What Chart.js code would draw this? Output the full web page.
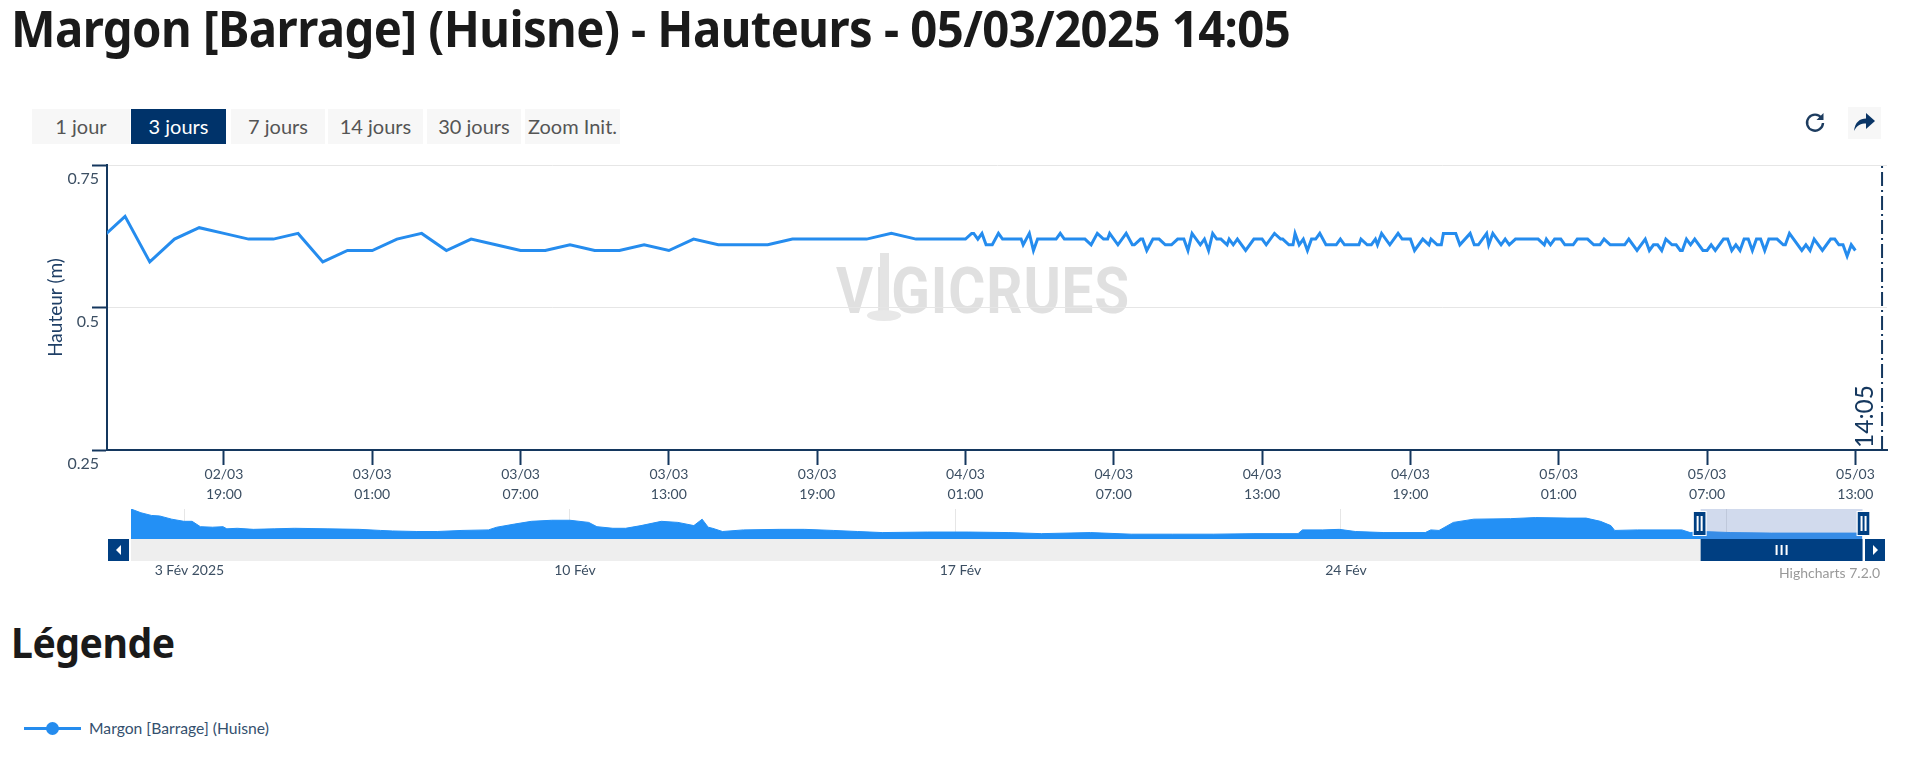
<!DOCTYPE html>
<html lang="fr">
<head>
<meta charset="utf-8">
<title>Margon [Barrage] (Huisne) - Hauteurs</title>
<script src="https://cdn.jsdelivr.net/npm/chart.js"></script>
<style>
  html, body { margin: 0; padding: 0; background: #fff; width: 1920px; height: 759px; overflow: hidden; font-family: Lato, sans-serif; }
  canvas { position: absolute; left: 0; display: block; }
  h1, h2 { position: absolute; margin: 0; left: 11px; color: #1a1a1a; font-weight: 700; white-space: nowrap; font-family: "Noto Sans", sans-serif; transform-origin: left top; }
  h1 { top: -6px; font-size: 50px; letter-spacing: -0.6px; transform: scaleX(0.945); }
  h2 { top: 614px; font-size: 41px; letter-spacing: -0.5px; transform: scaleX(0.955); }
  .btn { position: absolute; top: 109px; height: 35px; line-height: 35px; background: #f7f7f7; color: #555; text-align: center; font-size: 20px; }
  .btn.on { background: #00336a; color: #fff; }
  .icon { position: absolute; }
  #share { position: absolute; left: 1848px; top: 107px; width: 33px; height: 32px; background: #f7f7f7; }
  #wm { position: absolute; left: 836px; top: 260px; font: 700 64px "Liberation Sans Narrow", Roboto, sans-serif; color: #e0e0e0; letter-spacing: 1px; line-height: 64px; transform: scaleX(0.885); transform-origin: left top; }
  #pole { position: absolute; left: 880px; top: 253px; width: 9px; height: 60px; background: #e4e4e4; }
  #foot { position: absolute; left: 867px; top: 310px; width: 34px; height: 11px; border-radius: 50%; background: #e8e8e8; }
  #credits { position: absolute; left: 1779px; top: 564px; font-size: 14px; color: #999; }
  #legline { position: absolute; left: 24px; top: 727px; width: 57px; height: 3px; background: #258cee; }
  #legdot { position: absolute; left: 46px; top: 722px; width: 13px; height: 13px; border-radius: 50%; background: #258cee; }
  #legtxt { position: absolute; left: 89px; top: 719px; font-size: 15.7px; color: #34506e; }
</style>
</head>
<body>
<h1>Margon [Barrage] (Huisne) - Hauteurs - 05/03/2025 14:05</h1>
<div class="btn" style="left:32px;width:98px">1 jour</div>
<div class="btn on" style="left:131px;width:95px">3 jours</div>
<div class="btn" style="left:231px;width:94px">7 jours</div>
<div class="btn" style="left:328px;width:95px">14 jours</div>
<div class="btn" style="left:427px;width:94px">30 jours</div>
<div class="btn" style="left:525px;width:95px">Zoom Init.</div>
<svg class="icon" style="left:1803px;top:110px" width="24" height="24" viewBox="0 0 24 24">
  <path d="M18.5 8 A8 8 0 1 0 20 13" fill="none" stroke="#1d3c5f" stroke-width="2.4"/>
  <path d="M20.5 3 V10 H13.5 Z" fill="#1d3c5f"/>
</svg>
<div id="share"></div>
<svg class="icon" style="left:1853px;top:111px" width="23" height="22" viewBox="0 0 23 22">
  <path d="M1 20 C2 11 7 7.5 13 7.5 V2 L22 10 L13 18 V12.5 C8 12.5 4 14 1 20 Z" fill="#0a3566"/>
</svg>
<div id="wm">VIGICRUES</div><div id="pole"></div><div id="foot"></div>
<canvas id="mainChart" width="1920" height="357" style="top:144px"></canvas>
<canvas id="navChart" width="1920" height="90" style="top:501px"></canvas>
<div id="credits">Highcharts 7.2.0</div>
<h2>Légende</h2>
<div id="legline"></div><div id="legdot"></div><div id="legtxt">Margon [Barrage] (Huisne)</div>

<script>
// all times are hours since 02/03 00:00
const seriesName = 'Margon [Barrage] (Huisne)';
const hourlyStart = 14;
const hourlyHeights = [0.62, 0.66, 0.58, 0.62, 0.64, 0.63, 0.62, 0.62, 0.63, 0.58, 0.60, 0.60,
  0.62, 0.63, 0.60, 0.62, 0.61, 0.60, 0.60, 0.61, 0.60, 0.60, 0.61, 0.60, 0.62, 0.61, 0.61,
  0.61, 0.62, 0.62, 0.62, 0.62, 0.63, 0.62, 0.62, 0.62];

// from 04/03 01:00 the station reports more often: minutes after 01:00 and height
const detailMinutes = [15, 20, 30, 40, 50, 65, 80, 90, 135, 140, 155, 165, 175, 220, 230, 240, 290, 305, 320, 335,
  345, 350, 370, 390, 405, 410, 425, 430, 440, 455, 470, 485, 500, 515, 530, 540, 550, 570, 580, 590,
  600, 610, 620, 635, 640, 650, 660, 680, 700, 720, 730, 750, 765, 770, 785, 795, 800, 810, 820, 830,
  840, 850, 860, 875, 900, 910, 920, 955, 960, 975, 985, 995, 1000, 1010, 1030, 1050, 1060, 1080, 1090, 1110,
  1125, 1130, 1145, 1155, 1160, 1190, 1200, 1225, 1235, 1245, 1265, 1270, 1280, 1300, 1310, 1320, 1335, 1390, 1405, 1410,
  1420, 1430, 1445, 1455, 1475, 1485, 1510, 1525, 1540, 1550, 1565, 1600, 1610, 1630, 1650, 1660, 1670, 1680, 1690, 1700,
  1715, 1725, 1735, 1740, 1750, 1760, 1770, 1790, 1800, 1810, 1820, 1840, 1850, 1860, 1870, 1880, 1890, 1900, 1910, 1920,
  1930, 1940, 1950, 1970, 1985, 1990, 2000, 2030, 2040, 2050, 2060, 2080, 2100, 2110, 2120, 2130, 2140, 2150, 2160];
const detailHeights = [0.63, 0.63, 0.62, 0.63, 0.61, 0.61, 0.63, 0.62, 0.62, 0.61, 0.63, 0.60, 0.62, 0.62, 0.63, 0.62, 0.62, 0.61, 0.63, 0.62,
  0.62, 0.63, 0.61, 0.63, 0.61, 0.61, 0.62, 0.62, 0.60, 0.62, 0.62, 0.61, 0.61, 0.62, 0.62, 0.60, 0.63, 0.61, 0.62, 0.60,
  0.63, 0.62, 0.62, 0.61, 0.62, 0.61, 0.62, 0.60, 0.62, 0.62, 0.61, 0.63, 0.62, 0.62, 0.61, 0.61, 0.63, 0.61, 0.62, 0.60,
  0.62, 0.62, 0.63, 0.61, 0.61, 0.62, 0.61, 0.61, 0.62, 0.61, 0.61, 0.62, 0.61, 0.63, 0.61, 0.63, 0.62, 0.62, 0.60, 0.62,
  0.61, 0.62, 0.61, 0.61, 0.63, 0.63, 0.61, 0.63, 0.61, 0.61, 0.63, 0.61, 0.63, 0.61, 0.62, 0.61, 0.62, 0.62, 0.61, 0.62,
  0.61, 0.62, 0.62, 0.61, 0.61, 0.62, 0.62, 0.61, 0.61, 0.62, 0.61, 0.61, 0.62, 0.60, 0.62, 0.60, 0.61, 0.61, 0.60, 0.62,
  0.61, 0.61, 0.60, 0.60, 0.62, 0.61, 0.62, 0.60, 0.60, 0.61, 0.60, 0.62, 0.62, 0.60, 0.61, 0.60, 0.62, 0.62, 0.60, 0.62,
  0.62, 0.60, 0.62, 0.62, 0.61, 0.61, 0.63, 0.60, 0.61, 0.60, 0.62, 0.60, 0.62, 0.62, 0.61, 0.61, 0.59, 0.61, 0.60];

const tickHours = [19, 25, 31, 37, 43, 49, 55, 61, 67, 73, 79, 85];
const tickDates = ['02/03', '03/03', '03/03', '03/03', '03/03', '04/03', '04/03', '04/03', '04/03', '05/03', '05/03', '05/03'];
const tickTimes = ['19:00', '01:00', '07:00', '13:00', '19:00', '01:00', '07:00', '13:00', '19:00', '01:00', '07:00', '13:00'];
const yTicks = [0.25, 0.5, 0.75];
const xMin = 14.27, xMax = 86.28;
const nowHour = 86.08; // 05/03 14:05
const nowLabel = '14:05';

// navigator: days since 01/02 00:00 and height
const navDays = [1.03, 1.21, 1.40, 1.55, 1.77, 1.99, 2.14, 2.29, 2.51, 2.70, 2.77, 2.96, 3.25, 3.63, 4.00, 4.59, 5.18, 5.56, 5.78,
  6.22, 6.59, 7.04, 7.52, 7.67, 8.00, 8.30, 8.67, 9.00, 9.34, 9.49, 9.78, 10.01, 10.29, 10.66, 10.96, 11.25, 11.40, 11.51, 11.59,
  11.77, 12.15, 12.81, 13.26, 13.78, 14.22, 14.67, 15.49, 16.23, 16.97, 17.56, 18.45, 19.19, 19.94, 20.68, 21.42, 21.93, 22.22,
  22.30, 22.67, 22.97, 23.26, 23.78, 24.53, 24.63, 24.78, 25.04, 25.41, 26.08, 26.53, 27.12, 27.45, 27.71, 27.90, 27.97, 28.38,
  29.19, 29.34, 29.56, 30.08, 30.82, 32.46];
const navHeights = [1.06, 0.99, 0.94, 0.93, 0.87, 0.83, 0.83, 0.73, 0.72, 0.73, 0.69, 0.70, 0.68, 0.69, 0.70, 0.69, 0.68, 0.66, 0.65,
  0.64, 0.64, 0.66, 0.67, 0.72, 0.78, 0.83, 0.85, 0.85, 0.81, 0.73, 0.70, 0.70, 0.75, 0.83, 0.81, 0.75, 0.87, 0.72, 0.70,
  0.64, 0.67, 0.68, 0.68, 0.66, 0.64, 0.62, 0.63, 0.63, 0.62, 0.60, 0.62, 0.59, 0.59, 0.59, 0.60, 0.60, 0.60,
  0.67, 0.67, 0.68, 0.64, 0.62, 0.62, 0.67, 0.66, 0.81, 0.87, 0.88, 0.90, 0.89, 0.89, 0.83, 0.75, 0.66, 0.67,
  0.67, 0.62, 0.64, 0.62, 0.61, 0.61];
const navTickDays = [2, 9, 16, 23, 30];
const navTickLabels = ['3 Fév 2025', '10 Fév', '17 Fév', '24 Fév', ''];
const selStartDay = 29.53, selEndDay = 32.47;

const navy = '#14375e';
const textColor = '#3c4f63';
const lineColor = '#258cee';

// hourly readings then the denser ones
const hauteurPoints = hourlyHeights.map((h, i) => ({ x: hourlyStart + i, y: h }))
  .concat(detailMinutes.map((m, i) => ({ x: 49 + m / 60, y: detailHeights[i] })));

// label of the current time, written along the plot line
const nowLabelPlugin = {
  id: 'nowLabel',
  afterDatasetsDraw(chart) {
    const { ctx, chartArea, scales } = chart;
    ctx.save();
    ctx.translate(scales.x.getPixelForValue(nowHour) - 9, chartArea.bottom - 2);
    ctx.rotate(-Math.PI / 2);
    ctx.font = '24.5px Lato';
    ctx.fillStyle = navy;
    ctx.fillText(nowLabel, 0, 0);
    ctx.restore();
  }
};

new Chart(document.getElementById('mainChart').getContext('2d'), {
  type: 'line',
  plugins: [nowLabelPlugin],
  data: {
    datasets: [
      { label: seriesName, data: hauteurPoints, borderColor: lineColor, borderWidth: 3, pointRadius: 0, tension: 0, borderJoinStyle: 'miter' },
      { label: 'now', data: [{ x: nowHour, y: yTicks[0] }, { x: nowHour, y: yTicks[2] }], borderColor: navy, borderWidth: 2, borderDash: [14, 4, 2, 4], pointRadius: 0 }
    ]
  },
  options: {
    responsive: false,
    animation: false,
    layout: { padding: { top: 0, right: 33, left: 0, bottom: 0 } },
    plugins: { legend: { display: false }, tooltip: { enabled: false } },
    scales: {
      x: {
        type: 'linear',
        min: xMin,
        max: xMax,
        afterFit(scale) { scale.height = 51; },
        afterBuildTicks(scale) { scale.ticks = tickHours.map(v => ({ value: v })); },
        border: { color: navy, width: 2 },
        grid: { drawOnChartArea: false, tickLength: 15, tickColor: navy, tickWidth: 2 },
        ticks: {
          autoSkip: false,
          maxRotation: 0,
          padding: 0,
          color: textColor,
          font: { family: 'Lato', size: 14, lineHeight: 1.4 },
          callback(v) { const i = tickHours.indexOf(v); return [tickDates[i], tickTimes[i]]; }
        }
      },
      y: {
        min: 0.25,
        max: 0.75,
        afterFit(scale) { scale.width = 107; },
        afterBuildTicks(scale) { scale.ticks = yTicks.map(v => ({ value: v })); },
        border: { color: navy, width: 2 },
        grid: { color: '#e6e6e6', tickLength: 15, tickColor: navy, tickWidth: 2 },
        title: { display: true, text: 'Hauteur (m)', color: '#1f3f66', font: { family: 'Lato', size: 19 }, padding: { top: 44, bottom: 0 } },
        ticks: {
          padding: -7,
          color: textColor,
          font: { family: 'Lato', size: 16, lineHeight: 28 / 16 },
          // empty first line pushes the number under its tick
          callback(v) { return ['', String(v)]; }
        }
      }
    }
  }
});

// selection window, handles and scrollbar of the navigator
const navigatorPlugin = {
  id: 'navigatorParts',
  afterDraw(chart) {
    const { ctx, chartArea, scales } = chart;
    const x0 = scales.x.getPixelForValue(selStartDay);
    const x1 = scales.x.getPixelForValue(selEndDay);
    const top = chartArea.top, bottom = chartArea.bottom;
    ctx.save();
    ctx.fillStyle = 'rgba(102,133,194,0.3)';
    ctx.fillRect(x0, top, x1 - x0, bottom - top);
    // scrollbar
    ctx.fillStyle = '#eeeeee';
    ctx.fillRect(chartArea.left, bottom, x0 - chartArea.left, 22);
    ctx.fillStyle = '#003f82';
    ctx.fillRect(x0, bottom, x1 - x0, 22);
    ctx.fillRect(108, bottom, 21, 22);
    ctx.fillRect(1865, bottom, 20, 22);
    ctx.fillStyle = '#fff';
    const mid = (x0 + x1) / 2;
    [-5, 0, 5].forEach(d => ctx.fillRect(mid + d - 1, bottom + 6, 2, 10));
    ctx.beginPath(); ctx.moveTo(121, bottom + 6); ctx.lineTo(116, bottom + 11); ctx.lineTo(121, bottom + 16); ctx.fill();
    ctx.beginPath(); ctx.moveTo(1873, bottom + 6); ctx.lineTo(1878, bottom + 11); ctx.lineTo(1873, bottom + 16); ctx.fill();
    // handles
    [x0 - 1, x1 + 1].forEach(x => {
      ctx.fillStyle = '#003f82';
      ctx.strokeStyle = '#fff';
      ctx.lineWidth = 1;
      ctx.fillRect(x - 6, top + 3, 12, 23);
      ctx.strokeRect(x - 6.5, top + 2.5, 13, 24);
      ctx.fillStyle = '#fff';
      ctx.fillRect(x - 3, top + 7, 2, 15);
      ctx.fillRect(x + 1, top + 7, 2, 15);
    });
    ctx.restore();
  }
};

new Chart(document.getElementById('navChart').getContext('2d'), {
  type: 'line',
  plugins: [navigatorPlugin],
  data: {
    datasets: [{
      label: seriesName,
      data: navDays.map((d, i) => ({ x: d, y: navHeights[i] })),
      borderColor: '#2390f5',
      backgroundColor: '#2390f5',
      borderWidth: 1,
      pointRadius: 0,
      tension: 0,
      fill: 'start'
    }]
  },
  options: {
    responsive: false,
    animation: false,
    layout: { padding: { top: 8, left: 131, right: 58, bottom: 0 } },
    plugins: { legend: { display: false }, tooltip: { enabled: false } },
    scales: {
      x: {
        type: 'linear',
        min: navDays[0],
        max: navDays[navDays.length - 1],
        afterFit(scale) { scale.height = 52; },
        afterBuildTicks(scale) { scale.ticks = navTickDays.map(v => ({ value: v })); },
        border: { display: false },
        grid: { color: '#e6e6e6', drawTicks: false },
        ticks: {
          autoSkip: false,
          maxRotation: 0,
          padding: 23,
          labelOffset: 5,
          color: textColor,
          font: { family: 'Lato', size: 14 },
          callback(v) { return navTickLabels[navTickDays.indexOf(v)]; }
        }
      },
      y: { display: false, min: 0.5, max: 1.06 }
    }
  }
});
</script>
</body>
</html>
